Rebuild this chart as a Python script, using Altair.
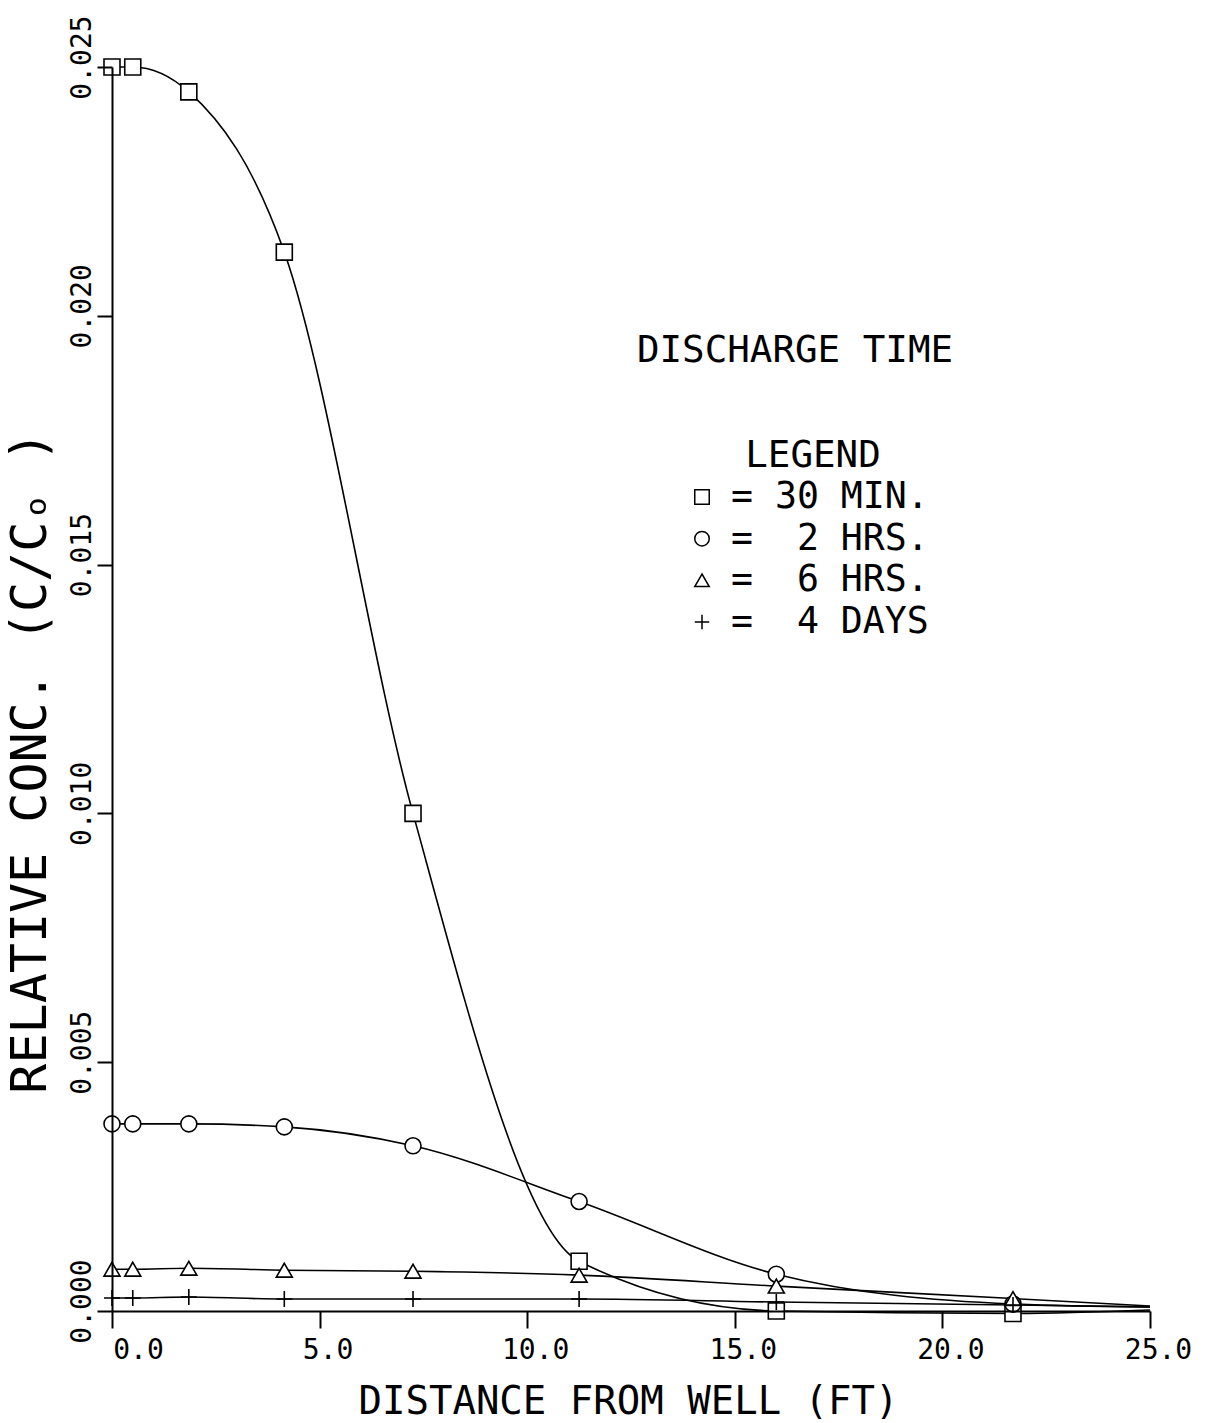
import altair as alt
import pandas as pd

# Distances from the well (ft) at which concentrations were computed
DISTANCE_FT = [0.0, 0.5, 1.85, 4.15, 7.25, 11.25, 16.0, 21.7]
END_DISTANCE_FT = 25.0

SERIES = ["30 MIN.", "2 HRS.", "6 HRS.", "4 DAYS"]
LEGEND_LABELS = ["=\u00a030\u00a0MIN.", "=\u00a0\u00a02\u00a0HRS.", "=\u00a0\u00a06\u00a0HRS.", "=\u00a0\u00a04\u00a0DAYS"]

# Relative concentration C/Co for each discharge time
CONC_30_MIN = [0.02500, 0.02500, 0.02450, 0.02128, 0.01000, 0.00100, 0.00000, -0.00005]
CONC_2_HRS = [0.00376, 0.00376, 0.00376, 0.00370, 0.00332, 0.00220, 0.00074, 0.00014]
CONC_6_HRS = [0.00084, 0.00084, 0.00086, 0.00082, 0.00080, 0.00072, 0.00050, 0.00025]
CONC_4_DAYS = [0.00026, 0.00026, 0.00028, 0.00024, 0.00024, 0.00024, 0.00018, 0.00012]
# Curve values at the right end of the profile (no symbol plotted there)
END_CONC = [0.00002, 0.00008, 0.00010, 0.00008]

X_TICKS = [0, 5, 10, 15, 20, 25]
Y_TICKS = [0.0, 0.005, 0.010, 0.015, 0.020, 0.025]

FONT = "DejaVu Sans Mono"
SHAPES = ["square", "circle", "triangle-up", "M-1,0H1M0,-1V1"]

profiles = [CONC_30_MIN, CONC_2_HRS, CONC_6_HRS, CONC_4_DAYS]

marker_rows = []
line_rows = []
for name, values, end_value in zip(SERIES, profiles, END_CONC):
    for d, c in zip(DISTANCE_FT, values):
        marker_rows.append({"series": name, "distance": d, "conc": c})
        line_rows.append({"series": name, "distance": d, "conc": c})
    line_rows.append({"series": name, "distance": END_DISTANCE_FT, "conc": end_value})

markers = pd.DataFrame(marker_rows)
lines = pd.DataFrame(line_rows)
legend_rows = pd.DataFrame({"series": SERIES, "label": LEGEND_LABELS})
heading_rows = pd.DataFrame({"label": ["DISCHARGE TIME", "LEGEND"]})

x_scale = alt.Scale(domain=[0, 25], nice=False, zero=False)
y_scale = alt.Scale(domain=[0, 0.025], nice=False, zero=False)
shape_scale = alt.Scale(domain=SERIES, range=SHAPES)
# Rows of the in-plot key, spaced in pixels from the top of the plot area
key_rows = alt.Scale(domain=SERIES, range=[430, 555], padding=0)
heading_rows_scale = alt.Scale(domain=["DISCHARGE TIME", "LEGEND"], range=[295, 400], padding=0)
heading_cols_scale = alt.Scale(domain=["DISCHARGE TIME", "LEGEND"], range=[683, 701], padding=0)

x_axis = alt.Axis(
    values=X_TICKS,
    format=".1f",
    title="DISTANCE FROM WELL (FT)",
    grid=False,
    tickSize=17,
    tickWidth=2,
    domainWidth=2,
    labelFontSize=28,
    labelPadding=8,
    labelAlign="center",
    labelBaseline="top",
    labelFlush=False,
    labelOverlap=False,
    labelOffset=alt.condition("datum.value == 0", alt.value(26), alt.value(8)),
    titleFontSize=39,
    titleX=516,
    titleY=102,
    titleAlign="center",
    titleBaseline="alphabetic",
    zindex=1,
)

y_axis = alt.Axis(
    values=Y_TICKS,
    format=".3f",
    title="RELATIVE CONC. (C/C\u2092\u00a0)",
    grid=False,
    tickSize=15,
    tickWidth=2,
    domainWidth=2,
    labelAngle=270,
    labelAlign="center",
    labelBaseline="alphabetic",
    labelPadding=7,
    labelOffset=-10,
    labelOverlap=False,
    labelFontSize=28,
    titleAngle=270,
    titleFontSize=50,
    titleX=-82,
    titleY=695,
    titleAlign="center",
    titleBaseline="middle",
    zindex=1,
)

curves = alt.Chart(lines).mark_line(
    color="black", strokeWidth=1.6, interpolate="monotone"
).encode(
    x=alt.X("distance:Q", scale=x_scale, axis=x_axis),
    y=alt.Y("conc:Q", scale=y_scale, axis=y_axis),
    detail="series:N",
)

symbols = alt.Chart(markers).mark_point(
    filled=False, color="black", fill="white", strokeWidth=1.6, size=256, opacity=1
).encode(
    x=alt.X("distance:Q", scale=x_scale, axis=None),
    y=alt.Y("conc:Q", scale=y_scale, axis=None),
    shape=alt.Shape("series:N", scale=shape_scale, legend=None),
)

key_symbols = alt.Chart(legend_rows).mark_point(
    filled=False, color="black", fill="white", strokeWidth=1.5, size=210, opacity=1
).encode(
    x=alt.value(590),
    y=alt.Y("series:N", scale=key_rows, axis=None),
    shape=alt.Shape("series:N", scale=shape_scale, legend=None),
)

key_labels = alt.Chart(legend_rows).mark_text(
    font=FONT, fontSize=36.5, color="black", align="left", baseline="middle"
).encode(
    x=alt.value(619),
    y=alt.Y("series:N", scale=key_rows, axis=None),
    text="label:N",
)

headings = alt.Chart(heading_rows).mark_text(
    font=FONT, fontSize=37.5, color="black", align="center", baseline="alphabetic"
).encode(
    x=alt.X("label:N", scale=heading_cols_scale, axis=None),
    y=alt.Y("label:N", scale=heading_rows_scale, axis=None),
    text="label:N",
)

chart = (
    alt.layer(curves, symbols, key_symbols, key_labels, headings)
    .resolve_scale(x="independent", y="independent")
    .properties(
        width=1038,
        height=1244,
        autosize=alt.AutoSizeParams(type="none"),
        padding={"left": 112, "top": 67, "right": 58, "bottom": 112},
        background="white",
    )
    .configure_view(strokeWidth=0)
    .configure_axis(
        labelFont=FONT,
        titleFont=FONT,
        labelColor="black",
        titleColor="black",
        domainColor="black",
        tickColor="black",
        titleFontWeight="normal",
    )
)

chart.save("out.html", embed_options={"renderer": "svg", "actions": False})
